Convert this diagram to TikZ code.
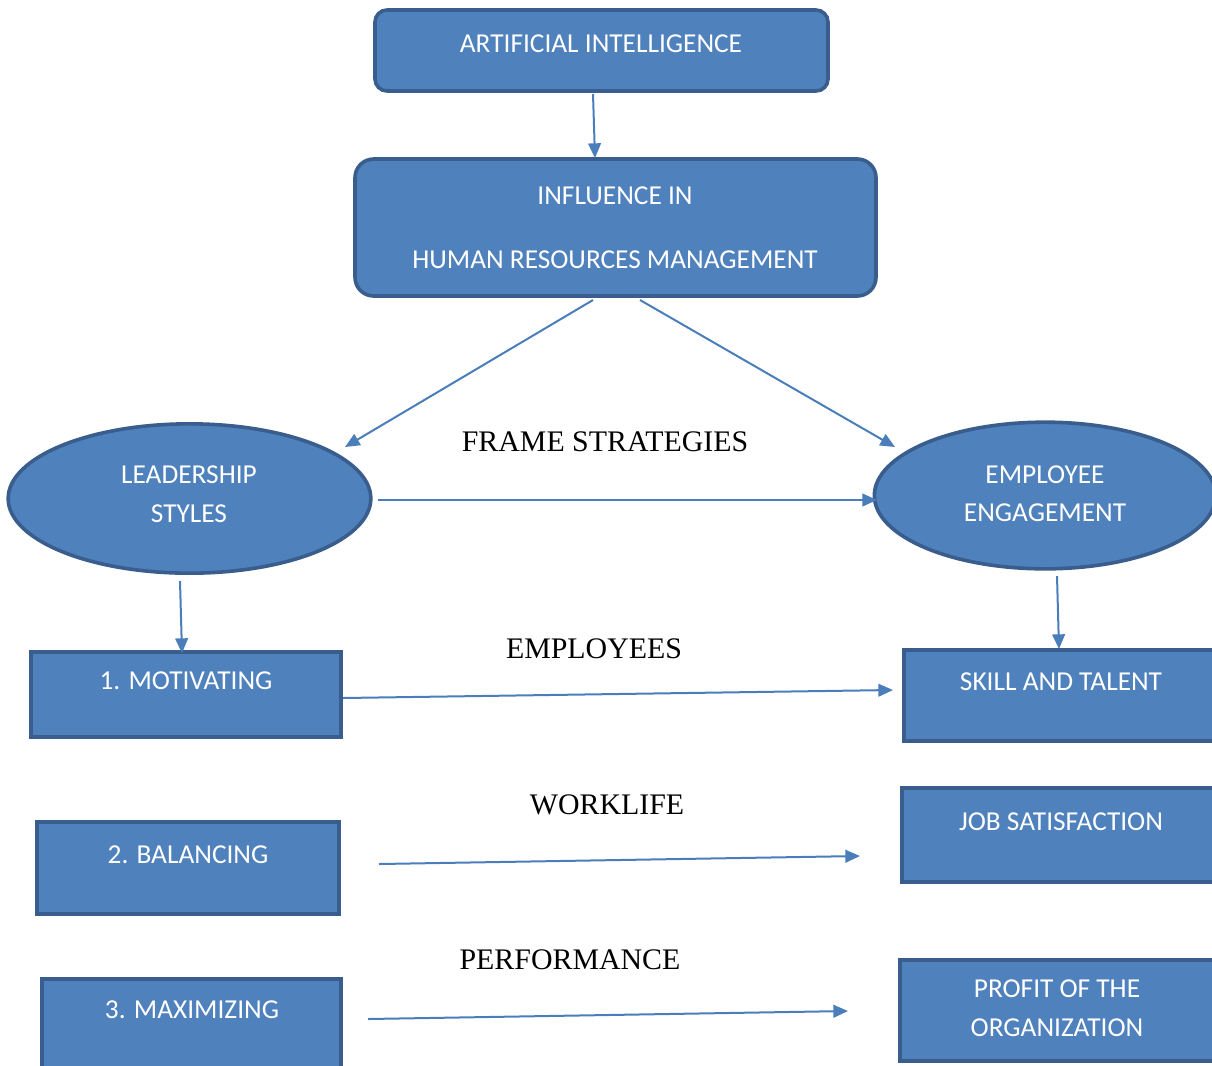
\documentclass[tikz,border=0pt]{standalone}
\usepackage{fontspec}
\setmainfont{Liberation Serif}
\newfontfamily\boxfont{Carlito}
\usetikzlibrary{arrows.meta,shapes.geometric,fit}

\definecolor{boxfill}{HTML}{4F81BD}
\definecolor{boxline}{HTML}{395D8C}
\definecolor{arrowcol}{HTML}{4A7EBB}

\tikzset{
  panel/.style={draw=boxline, fill=boxfill, line width=2.7pt, inner sep=0pt},
  roundpanel/.style={panel, rounded corners=#1},
  oval/.style={panel, ellipse},
  boxtext/.style={font=\boxfont\fontsize{20.5}{24}\selectfont, text=white, anchor=base, inner sep=0pt},
  caption/.style={font=\fontsize{22.4}{26}\selectfont, text=black, anchor=base, inner sep=0pt},
  link/.style={draw=arrowcol, line width=1.5pt, -{Triangle[length=11pt,width=9.5pt]}}
}

\begin{document}
\begin{tikzpicture}[x=0.75pt,y=-0.75pt]
  \useasboundingbox (0,0) rectangle (1212,1065);
  \clip (0,0) rectangle (1212,1065);

  % top boxes
  \node[roundpanel=9pt, fit={(375,10) (828,91)}] (ai) {};
  \node[roundpanel=14pt, fit={(355,159) (876,296)}] (hrm) {};

  % ovals
  \node[oval, minimum width=272pt, minimum height=112pt] (lead) at (189.5,498.5) {};
  \node[oval, minimum width=256pt, minimum height=110pt] (eng) at (1045,495.5) {};

  % left column
  \node[panel, fit={(31,652) (341,737)}] (mot) {};
  \node[panel, fit={(37,822) (339,914)}] (bal) {};
  \node[panel, fit={(42,979) (341,1080)}] (max) {};

  % right column
  \node[panel, fit={(904,650) (1230,741)}] (skill) {};
  \node[panel, fit={(902,788) (1230,882)}] (job) {};
  \node[panel, fit={(900,960) (1230,1061)}] (profit) {};

  % box texts
  \node[boxtext] (t-ai) at (601,52) {ARTIFICIAL INTELLIGENCE};
  \node[boxtext] (t-hrm1) at (615,204) {INFLUENCE IN};
  \node[boxtext] (t-hrm2) at (615,268) {HUMAN RESOURCES MANAGEMENT};
  \node[boxtext] (t-lead1) at (189,483) {LEADERSHIP};
  \node[boxtext] (t-lead2) at (189,522) {STYLES};
  \node[boxtext] (t-eng1) at (1045,483) {EMPLOYEE};
  \node[boxtext] (t-eng2) at (1045,521) {ENGAGEMENT};
  \node[boxtext] (t-mot) at (186,689) {1. MOTIVATING};
  \node[boxtext] (t-bal) at (188,863) {2. BALANCING};
  \node[boxtext] (t-max) at (192,1018) {3. MAXIMIZING};
  \node[boxtext] (t-skill) at (1061,690) {SKILL AND TALENT};
  \node[boxtext] (t-job) at (1061,830) {JOB SATISFACTION};
  \node[boxtext] (t-prof1) at (1057,997) {PROFIT OF THE};
  \node[boxtext] (t-prof2) at (1057,1036) {ORGANIZATION};

  % captions between the columns
  \node[caption] (c-frame) at (605,451) {FRAME STRATEGIES};
  \node[caption] (c-emp) at (594,658) {EMPLOYEES};
  \node[caption] (c-work) at (607,814) {WORKLIFE};
  \node[caption] (c-perf) at (570,969) {PERFORMANCE};

  % free ends of the connectors
  \coordinate (ai-s) at (593,94);
  \coordinate (hrm-n) at (595,158);
  \coordinate (hrm-sl) at (593,300);
  \coordinate (hrm-sr) at (640,300);
  \coordinate (lead-in) at (345,447);
  \coordinate (eng-in) at (895,447);
  \coordinate (lead-e) at (378,500);
  \coordinate (eng-w) at (877,500);
  \coordinate (lead-s) at (180,581);
  \coordinate (mot-n) at (182,653);
  \coordinate (eng-s) at (1057,576);
  \coordinate (skill-n) at (1059,649);
  \coordinate (mot-e) at (343,698);
  \coordinate (skill-w) at (893,690);
  \coordinate (bal-e) at (379,864);
  \coordinate (job-w) at (860,856);
  \coordinate (max-e) at (368,1019);
  \coordinate (prof-w) at (848,1011);

  % connectors
  \draw[link] (ai-s) -- (hrm-n);
  \draw[link] (hrm-sl) -- (lead-in);
  \draw[link] (hrm-sr) -- (eng-in);
  \draw[link] (lead-e) -- (eng-w);
  \draw[link] (lead-s) -- (mot-n);
  \draw[link] (eng-s) -- (skill-n);
  \draw[link] (mot-e) -- (skill-w);
  \draw[link] (bal-e) -- (job-w);
  \draw[link] (max-e) -- (prof-w);
\end{tikzpicture}
\end{document}
